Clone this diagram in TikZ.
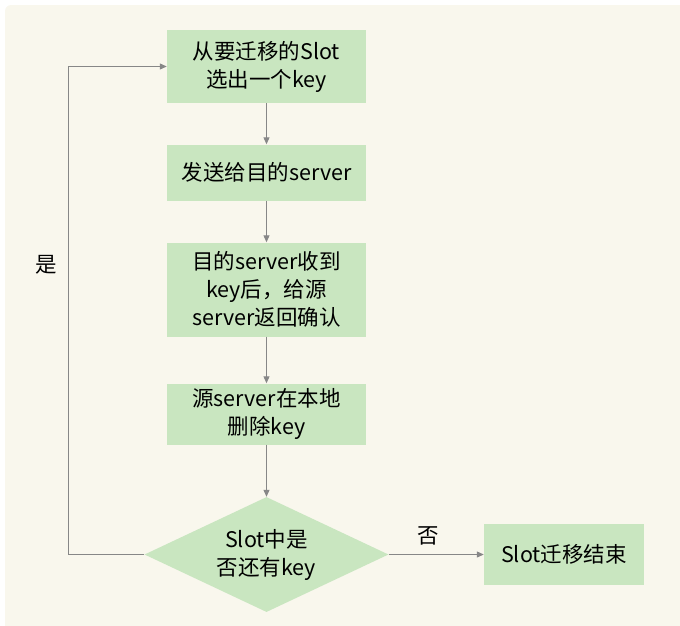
\documentclass[tikz,border=0pt]{standalone}
\usepackage{fontspec}
\setmainfont{Noto Sans CJK SC}
\usetikzlibrary{arrows.meta,positioning,shapes.geometric}
\definecolor{paper}{RGB}{249,247,237}
\definecolor{stepgreen}{RGB}{201,230,192}
\definecolor{linegray}{RGB}{135,135,135}

\begin{document}
\begin{tikzpicture}[x=1pt,y=-1pt,
    box/.style={fill=stepgreen, minimum width=199pt, inner sep=0pt,
                align=center, font=\fontsize{21.5}{28}\selectfont},
    decision/.style={diamond, aspect=2.12, fill=stepgreen, minimum width=244pt,
                minimum height=115pt, inner sep=0pt, align=center,
                font=\fontsize{21.5}{28}\selectfont},
    lbl/.style={text=black, font=\fontsize{21.5}{28}\selectfont},
    arr/.style={-{Triangle[length=7pt,width=6pt]}, line width=1pt, linegray}
]
\useasboundingbox (0,0) rectangle (680,625);
\begin{scope}
\clip (0,0) rectangle (680,625);
\fill[paper, rounded corners=6pt] (5,5) rectangle (700,645);
\end{scope}

\node[box, minimum height=73pt] (pick) at (266.5,66.5) {从要迁移的Slot\\选出一个key};
\node[box, minimum height=56pt] (send) at (266.5,172.5) {发送给目的server};
\node[box, minimum height=94pt] (ack) at (266.5,289.5) {目的server收到\\key后，给源\\server返回确认};
\node[box, minimum height=61pt] (del) at (266.5,414) {源server在本地\\删除key};
\node[decision] (more) at (266.5,554.5) {Slot中是\\否还有key};
\node[box, minimum width=160pt, minimum height=61pt] (done) at (564,554.5) {Slot迁移结束};
\coordinate (loop) at (68,554.5);

\draw[arr] (pick) -- (send);
\draw[arr] (send) -- (ack);
\draw[arr] (ack) -- (del);
\draw[arr] (del) -- (more);
\draw[arr] (more) -- node[lbl, above=5pt, pos=0.42] (no) {否} (done);
\draw[arr] (more.west) -- (loop) |- (pick.west);
\node[lbl] (yes) at (46,265) {是};
\end{tikzpicture}
\end{document}
